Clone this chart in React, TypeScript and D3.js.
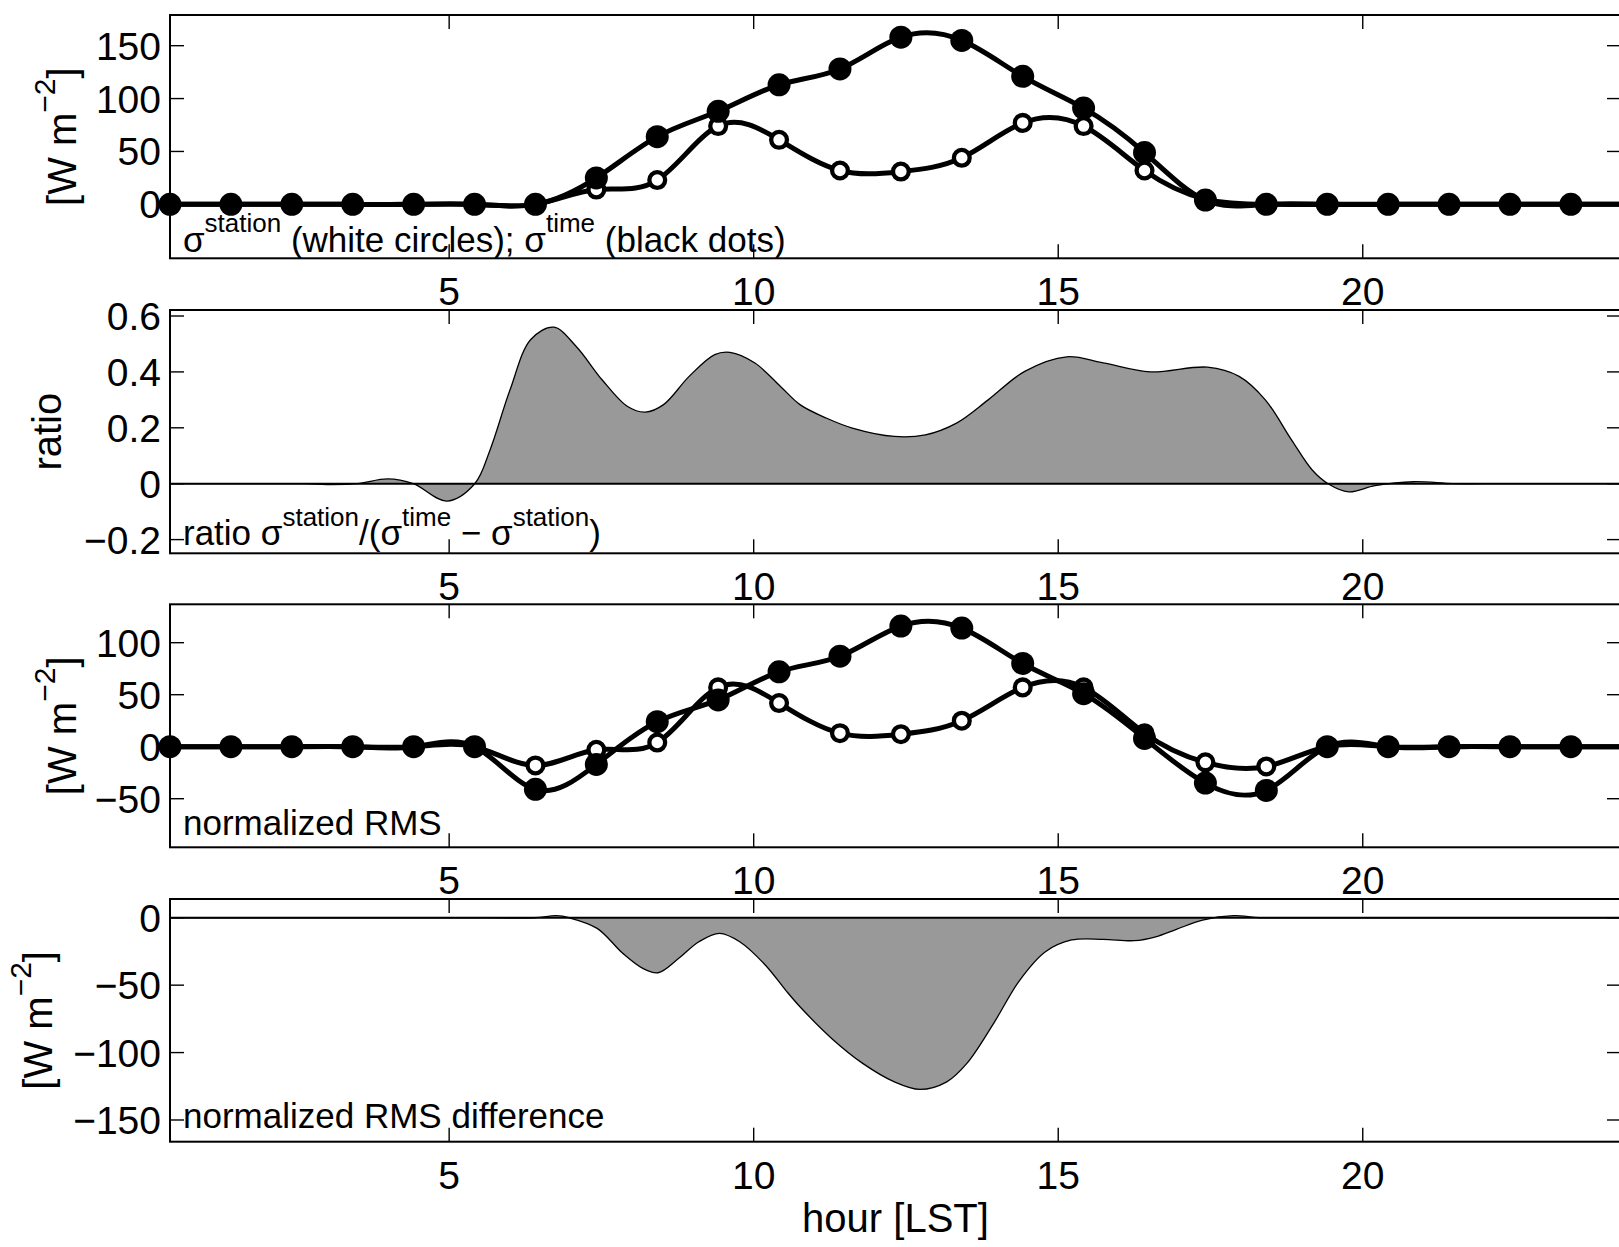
import React from "react";
import * as d3 from "d3";

// ---------------- DATA ----------------
const hours = [0.4167, 1.4167, 2.4167, 3.4167, 4.4167, 5.4167, 6.4167, 7.4167, 8.4167, 9.4167, 10.4167, 11.4167, 12.4167, 13.4167, 14.4167, 15.4167, 16.4167, 17.4167, 18.4167, 19.4167, 20.4167, 21.4167, 22.4167, 23.4167, 24.4167];

// panel 1: sigma (white circles = station, black dots = time)
const sigmaStation = [0, 0, 0, 0, 0, 0, 0, 14, 23, 74, 61, 32, 31, 44, 77, 74, 32, 5, 0, 0, 0, 0, 0, 0, 0];
const sigmaTime = [0, 0, 0, 0, 0, 0, 0, 25, 64, 88, 113, 128, 158, 155, 121, 91, 49, 4, 0, 0, 0, 0, 0, 0, 0];

// panel 2: ratio sigma_station / (sigma_time - sigma_station)
const ratioHours = [0.4167, 2.0, 2.65, 2.99, 3.49, 3.99, 4.41, 4.96, 5.42, 5.67, 6.0, 6.34, 6.72, 7.09, 7.51, 7.93, 8.22, 8.52, 8.94, 9.36, 9.61, 10.02, 10.44, 10.76, 11.19, 11.62, 12.31, 12.82, 13.33, 13.85, 14.45, 15.14, 15.74, 16.51, 17.45, 17.97, 18.4, 18.83, 19.17, 19.43, 19.77, 20.2, 20.84, 21.48, 22.0, 24.4167];
const ratioValues = [0, 0, 0, -0.003, 0, 0.017, 0, -0.062, 0, 0.12, 0.336, 0.516, 0.56, 0.49, 0.372, 0.276, 0.256, 0.283, 0.384, 0.462, 0.47, 0.432, 0.348, 0.283, 0.235, 0.199, 0.169, 0.175, 0.217, 0.3, 0.402, 0.454, 0.432, 0.4, 0.417, 0.384, 0.3, 0.157, 0.049, 0, -0.029, -0.007, 0.007, 0, 0, 0];

// panel 3: normalized RMS
const rmsStation = [0, 0, 0, 0, 0, 0, -18, -3, 4, 57, 42, 13, 12, 25, 57, 57, 13, -15, -19, 0, 0, 0, 0, 0, 0];
const rmsTime = [0, 0, 0, 0, 0, 0, -41, -17, 24, 45, 72, 87, 116, 114, 80, 51, 8, -35, -42, 0, 0, 0, 0, 0, 0];

// panel 4: normalized RMS difference
const diffHours = [0.4167, 5.0, 6.4, 6.76, 6.97, 7.43, 7.85, 8.18, 8.43, 8.77, 9.1, 9.44, 9.77, 10.19, 10.53, 10.76, 11.28, 11.79, 12.31, 12.73, 13.17, 13.5, 13.94, 14.37, 14.79, 15.22, 15.74, 16.25, 16.6, 16.94, 17.37, 17.88, 18.31, 19.0, 24.4167];
const diffValues = [0, 0, 0, 1.5, 0, -7.9, -26.4, -37.6, -40.8, -30.1, -17.8, -11.6, -17.8, -35, -54, -66, -89.5, -108, -121.7, -127.3, -121.7, -108, -78.3, -46.2, -25.2, -16.5, -16, -17, -14.1, -8.6, -1.7, 1.5, 0, 0, 0];

const xTicks = [5, 10, 15, 20];
const yTicks1 = [0, 50, 100, 150];
const yTicks2 = [-0.2, 0, 0.2, 0.4, 0.6];
const yTicks3 = [-50, 0, 50, 100];
const yTicks4 = [-150, -100, -50, 0];

// ---------------- LAYOUT ----------------
const W = 1619;
const H = 1247;
const FONT = "'Liberation Sans', Arial, Helvetica, sans-serif";
const X_LEFT = 170;
const X_RIGHT = 1621;
const xDomain: [number, number] = [0.4167, 24.24];
const x = d3.scaleLinear().domain(xDomain).range([X_LEFT, X_RIGHT]);
const TICK = 14;
const TICK_FS = 39;
const LABEL_FS = 40;
const ANN_FS = 35;
const SUP_FS = 26;

const fmt = (d: number) => (d < 0 ? "\u2212" : "") + String(Math.abs(d));

type PanelCfg = {
  top: number;
  bottom: number;
  domain: [number, number];
  ticks: number[];
  labelX: number;
  label: "wm" | "ratio";
  annBase: number;
};

const panels: PanelCfg[] = [
  { top: 15, bottom: 258.3, domain: [-51, 179], ticks: yTicks1, labelX: 76, label: "wm", annBase: 251.5 },
  { top: 310, bottom: 553.3, domain: [-0.249, 0.6215], ticks: yTicks2, labelX: 61, label: "ratio", annBase: 545 },
  { top: 604.3, bottom: 847.3, domain: [-96.7, 136.9], ticks: yTicks3, labelX: 76, label: "wm", annBase: 835 },
  { top: 899, bottom: 1141.7, domain: [-166.1, 13.9], ticks: yTicks4, labelX: 52, label: "wm", annBase: 1128 },
];

function Axes({ p, y }: { p: PanelCfg; y: d3.ScaleLinear<number, number> }) {
  return (
    <g>
      <rect x={X_LEFT} y={p.top} width={X_RIGHT - X_LEFT} height={p.bottom - p.top} fill="none" stroke="#000" strokeWidth={2} />
      {p.ticks.map((t) => (
        <g key={"y" + t}>
          <line x1={X_LEFT} x2={X_LEFT + TICK} y1={y(t)} y2={y(t)} stroke="#000" strokeWidth={1.4} />
          <line x1={X_RIGHT - TICK} x2={X_RIGHT} y1={y(t)} y2={y(t)} stroke="#000" strokeWidth={1.4} />
          <text x={161} y={y(t) + 14} textAnchor="end" fontSize={TICK_FS} fontFamily={FONT}>
            {fmt(t)}
          </text>
        </g>
      ))}
      {xTicks.map((t) => (
        <g key={"x" + t}>
          <line x1={x(t)} x2={x(t)} y1={p.bottom} y2={p.bottom - TICK} stroke="#000" strokeWidth={1.4} />
          <line x1={x(t)} x2={x(t)} y1={p.top} y2={p.top + TICK} stroke="#000" strokeWidth={1.4} />
          <text x={x(t)} y={p.bottom + 47} textAnchor="middle" fontSize={TICK_FS} fontFamily={FONT}>
            {fmt(t)}
          </text>
        </g>
      ))}
      <text
        transform={`translate(${p.labelX},${(p.top + p.bottom) / 2}) rotate(-90)`}
        textAnchor="middle"
        fontSize={LABEL_FS}
        fontFamily={FONT}
        style={{ whiteSpace: "pre" }}
      >
        {p.label === "ratio" ? (
          "ratio"
        ) : (
          <>
            <tspan>[W m</tspan>
            <tspan fontSize={30} dy={-21}>{"\u22122"}</tspan>
            <tspan dy={21}>]</tspan>
          </>
        )}
      </text>
    </g>
  );
}

function MarkerSeries({ ys, y, filled, clipId }: { ys: number[]; y: d3.ScaleLinear<number, number>; filled: boolean; clipId: string }) {
  const line = d3
    .line<number>()
    .x((_, i) => x(hours[i]))
    .y((d) => y(d))
    .curve(d3.curveNatural);
  return (
    <g>
      <path d={line(ys) || ""} clipPath={`url(#${clipId})`} fill="none" stroke="#000" strokeWidth={5} strokeLinejoin="round" />
      {ys.map((v, i) =>
        hours[i] <= xDomain[1] ? (
          filled ? (
            <circle key={i} cx={x(hours[i])} cy={y(v)} r={11.5} fill="#000" />
          ) : (
            <circle key={i} cx={x(hours[i])} cy={y(v)} r={7.9} fill="#fff" stroke="#000" strokeWidth={4.3} />
          )
        ) : null
      )}
    </g>
  );
}

function AreaSeries({ xs, vs, y, clipId }: { xs: number[]; vs: number[]; y: d3.ScaleLinear<number, number>; clipId: string }) {
  const area = d3
    .area<number>()
    .x((_, i) => x(xs[i]))
    .y0(y(0))
    .y1((d) => y(d))
    .curve(d3.curveCatmullRom.alpha(0.5));
  const line = d3
    .line<number>()
    .x((_, i) => x(xs[i]))
    .y((d) => y(d))
    .curve(d3.curveCatmullRom.alpha(0.5));
  return (
    <g clipPath={`url(#${clipId})`}>
      <path d={area(vs) || ""} fill="#999999" stroke="none" />
      <path d={line(vs) || ""} fill="none" stroke="#000" strokeWidth={1.3} />
      <line x1={X_LEFT} x2={X_RIGHT} y1={y(0)} y2={y(0)} stroke="#000" strokeWidth={2} />
    </g>
  );
}

function Sup({ children, raise }: { children: React.ReactNode; raise: number }) {
  return (
    <tspan fontSize={SUP_FS} dy={-raise}>
      {children}
    </tspan>
  );
}

export default function App() {
  React.useEffect(() => {
    document.body.style.margin = "0";
  }, []);

  const ys = panels.map((p) => d3.scaleLinear().domain(p.domain).range([p.bottom, p.top]));

  return (
    <svg
      width={W}
      height={H}
      viewBox={`0 0 ${W} ${H}`}
      style={{ position: "absolute", left: 0, top: 0, display: "block", background: "#fff" }}
    >
      <rect x={0} y={0} width={W} height={H} fill="#fff" />
      <defs>
        {panels.map((p, i) => (
          <clipPath id={"clip" + i} key={i}>
            <rect x={X_LEFT} y={p.top} width={X_RIGHT - X_LEFT} height={p.bottom - p.top} />
          </clipPath>
        ))}
      </defs>

      {panels.map((p, i) => (
        <Axes key={i} p={p} y={ys[i]} />
      ))}

      {/* panel 1 */}
      <MarkerSeries ys={sigmaStation} y={ys[0]} filled={false} clipId="clip0" />
      <MarkerSeries ys={sigmaTime} y={ys[0]} filled={true} clipId="clip0" />

      {/* panel 2 */}
      <AreaSeries xs={ratioHours} vs={ratioValues} y={ys[1]} clipId="clip1" />

      {/* panel 3 */}
      <MarkerSeries ys={rmsStation} y={ys[2]} filled={false} clipId="clip2" />
      <MarkerSeries ys={rmsTime} y={ys[2]} filled={true} clipId="clip2" />

      {/* panel 4 */}
      <AreaSeries xs={diffHours} vs={diffValues} y={ys[3]} clipId="clip3" />

      {/* annotations */}
      <text x={183} y={panels[0].annBase} fontSize={ANN_FS} fontFamily={FONT} style={{ whiteSpace: "pre" }}>
        <tspan>σ</tspan>
        <Sup raise={20}>station</Sup>
        <tspan dy={20}> (white circles); σ</tspan>
        <Sup raise={20}>time</Sup>
        <tspan dy={20}> (black dots)</tspan>
      </text>
      <text x={183} y={panels[1].annBase} fontSize={ANN_FS} fontFamily={FONT} style={{ whiteSpace: "pre" }}>
        <tspan>ratio σ</tspan>
        <Sup raise={19}>station</Sup>
        <tspan dy={19}>/(σ</tspan>
        <Sup raise={19}>time</Sup>
        <tspan dy={19}> − σ</tspan>
        <Sup raise={19}>station</Sup>
        <tspan dy={19}>)</tspan>
      </text>
      <text x={183} y={panels[2].annBase} fontSize={ANN_FS} fontFamily={FONT}>
        normalized RMS
      </text>
      <text x={183} y={panels[3].annBase} fontSize={ANN_FS} fontFamily={FONT}>
        normalized RMS difference
      </text>

      <text x={(X_LEFT + X_RIGHT) / 2} y={1232} textAnchor="middle" fontSize={LABEL_FS} fontFamily={FONT}>
        hour [LST]
      </text>
    </svg>
  );
}
